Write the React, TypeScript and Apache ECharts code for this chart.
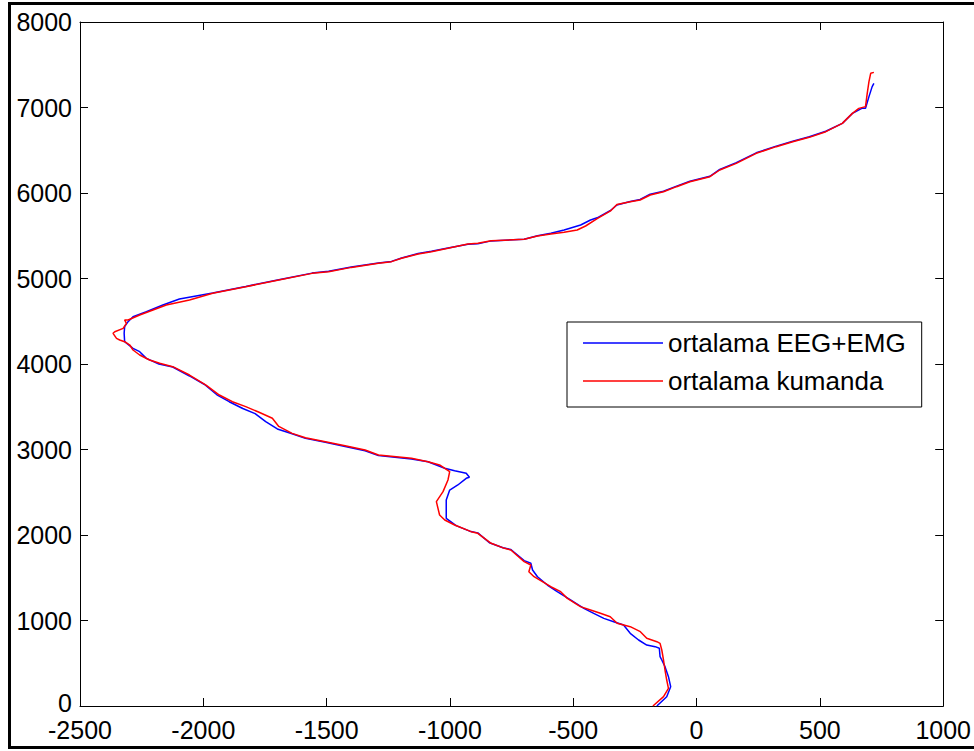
import React, { useEffect, useRef } from "react";
import * as echarts from "echarts";

// Axis ranges and tick steps
const xRange = [-2500, 1000];
const xStep = 500;
const yRange = [0, 8000];
const yStep = 1000;

const seriesNames = ["ortalama EEG+EMG", "ortalama kumanda"];
const seriesColors = ["#0000ff", "#ff0000"];

// Averaged EEG+EMG trajectory, [x, y]
const eegEmg: [number, number][] = [
  [-161, 0], [-121, 109], [-105, 226], [-114, 343], [-128, 460], [-141, 538],
  [-148, 577], [-151, 675], [-168, 694], [-202, 713], [-235, 772], [-269, 850],
  [-296, 947], [-336, 986], [-376, 1025], [-417, 1084], [-457, 1142], [-511, 1240],
  [-565, 1337], [-605, 1415], [-645, 1512], [-665, 1591], [-672, 1669], [-699, 1700],
  [-753, 1830], [-785, 1850], [-840, 1910], [-887, 2025], [-920, 2045], [-975, 2110],
  [-1015, 2195], [-1015, 2409], [-1001, 2526], [-968, 2585], [-934, 2663], [-921, 2675],
  [-934, 2722], [-981, 2752], [-1021, 2780], [-1089, 2857], [-1156, 2890], [-1290, 2930],
  [-1344, 2985], [-1425, 3035], [-1505, 3085], [-1586, 3130], [-1640, 3185], [-1700, 3240],
  [-1747, 3325], [-1790, 3420], [-1840, 3480], [-1895, 3559], [-1945, 3640], [-1995, 3760],
  [-2056, 3860], [-2124, 3965], [-2180, 4000], [-2231, 4066], [-2258, 4144], [-2285, 4183],
  [-2319, 4261], [-2321, 4359], [-2319, 4437], [-2305, 4495], [-2285, 4553], [-2231, 4611],
  [-2164, 4690], [-2097, 4760], [-1962, 4830], [-1828, 4907], [-1694, 4985], [-1559, 5063],
  [-1492, 5085], [-1400, 5135], [-1290, 5180], [-1237, 5200], [-1196, 5240], [-1129, 5292],
  [-1075, 5320], [-1008, 5358], [-927, 5400], [-887, 5405], [-833, 5440], [-699, 5458],
  [-645, 5500], [-591, 5530], [-537, 5567], [-470, 5626], [-430, 5684], [-403, 5710],
  [-349, 5795], [-323, 5860], [-269, 5900], [-229, 5925], [-188, 5985], [-134, 6020],
  [-81, 6080], [-27, 6138], [54, 6195], [94, 6275], [161, 6355], [242, 6470],
  [323, 6548], [390, 6605], [457, 6658], [524, 6722], [591, 6814], [632, 6931],
  [670, 6990], [685, 6990], [699, 7127], [712, 7244], [719, 7282],
];

// Averaged command trajectory, [x, y]
const kumanda: [number, number][] = [
  [-177, 0], [-134, 109], [-114, 207], [-121, 304], [-128, 421], [-134, 538],
  [-141, 655], [-148, 733], [-161, 752], [-202, 792], [-228, 869], [-269, 928],
  [-322, 967], [-350, 1044], [-390, 1084], [-430, 1123], [-471, 1162], [-524, 1259],
  [-551, 1337], [-591, 1395], [-625, 1454], [-659, 1512], [-680, 1571], [-672, 1649],
  [-699, 1688], [-753, 1825], [-779, 1844], [-833, 1903], [-887, 2020], [-914, 2039],
  [-981, 2117], [-1021, 2175], [-1042, 2234], [-1055, 2390], [-1028, 2507], [-1008, 2643],
  [-1001, 2741], [-1042, 2819], [-1089, 2857], [-1156, 2897], [-1290, 2936], [-1344, 2994],
  [-1425, 3045], [-1505, 3091], [-1586, 3138], [-1640, 3189], [-1694, 3270], [-1720, 3365],
  [-1774, 3435], [-1828, 3501], [-1882, 3559], [-1935, 3637], [-1989, 3754], [-2056, 3871],
  [-2124, 3969], [-2177, 4008], [-2218, 4047], [-2258, 4105], [-2285, 4164], [-2298, 4222],
  [-2319, 4261], [-2339, 4281], [-2352, 4300], [-2366, 4359], [-2359, 4378], [-2325, 4417],
  [-2312, 4476], [-2319, 4515], [-2305, 4515], [-2258, 4573], [-2204, 4632], [-2150, 4690],
  [-2056, 4748], [-1962, 4827], [-1828, 4904], [-1694, 4982], [-1559, 5060], [-1492, 5080],
  [-1400, 5130], [-1290, 5177], [-1237, 5197], [-1196, 5236], [-1129, 5287], [-1075, 5314],
  [-1008, 5353], [-927, 5404], [-887, 5411], [-833, 5442], [-699, 5458], [-645, 5497],
  [-591, 5520], [-537, 5540], [-484, 5567], [-450, 5614], [-403, 5700], [-349, 5790],
  [-323, 5865], [-269, 5898], [-229, 5918], [-188, 5977], [-134, 6015], [-81, 6074],
  [-27, 6132], [54, 6191], [94, 6269], [161, 6347], [242, 6464], [323, 6542],
  [390, 6600], [457, 6651], [524, 6717], [591, 6814], [632, 6931], [658, 6990],
  [685, 7010], [692, 7166], [699, 7302], [706, 7400], [719, 7411],
];

const FONT = "'Liberation Sans', Arial, sans-serif";
// thin horizontal bar used as the legend key
const LEGEND_KEY = "path://M0,0H80V1.5H0Z";

const labelText = { fontSize: 25, lineHeight: 18, fontFamily: FONT, color: "#000" };

function boxAxis(position: string, min: number, max: number, interval: number, labels: boolean) {
  const isY = position === "left";
  return {
    type: "value",
    position,
    min,
    max,
    interval,
    axisLine: { show: true, onZero: false, lineStyle: { color: "#000", width: 1 } },
    axisTick: { show: true, inside: true, length: 8, lineStyle: { color: "#000", width: 1 } },
    axisLabel: labels
      ? {
          show: true,
          margin: isY ? 8 : 15,
          ...labelText,
          // the y-axis origin label sits a little higher so it clears the x labels
          formatter: (v: number) => (isY && v === min ? `{low|${v}}` : String(v)),
          rich: { low: { ...labelText, padding: [0, 0, 7, 0] } },
        }
      : { show: false },
    splitLine: { show: false },
  };
}

export default function App() {
  const ref = useRef<HTMLDivElement>(null);

  useEffect(() => {
    if (!ref.current) return;
    const chart = echarts.init(ref.current, null, { renderer: "svg" });
    chart.setOption({
      animation: false,
      backgroundColor: "#fff",
      grid: { left: 80, right: 26, top: 22, bottom: 45, containLabel: false },
      xAxis: [
        boxAxis("bottom", xRange[0], xRange[1], xStep, true),
        boxAxis("top", xRange[0], xRange[1], xStep, false),
      ],
      yAxis: [
        boxAxis("left", yRange[0], yRange[1], yStep, true),
        boxAxis("right", yRange[0], yRange[1], yStep, false),
      ],
      legend: {
        orient: "vertical",
        left: 567,
        top: 322,
        itemWidth: 80,
        itemHeight: 26,
        itemGap: 12,
        symbolKeepAspect: true,
        padding: [8, 16, 13, 16],
        borderColor: "#000",
        borderWidth: 1,
        borderRadius: 0,
        backgroundColor: "#fff",
        textStyle: { fontSize: 26, fontFamily: FONT, color: "#000" },
        data: seriesNames.map((name, i) => ({
          name,
          icon: LEGEND_KEY,
          itemStyle: { color: seriesColors[i], borderWidth: 0 },
        })),
      },
      graphic: [
        {
          type: "rect",
          shape: { x: 9.5, y: 3.5, width: 1000, height: 744 },
          style: { fill: "none", stroke: "#000", lineWidth: 3 },
          silent: true,
          z: 100,
        },
      ],
      series: [
        {
          name: seriesNames[0],
          type: "line",
          data: eegEmg,
          symbol: "none",
          showSymbol: false,
          lineStyle: { color: seriesColors[0], width: 1.5 },
          itemStyle: { color: seriesColors[0] },
          z: 2,
        },
        {
          name: seriesNames[1],
          type: "line",
          data: kumanda,
          symbol: "none",
          showSymbol: false,
          lineStyle: { color: seriesColors[1], width: 1.5 },
          itemStyle: { color: seriesColors[1] },
          z: 3,
        },
      ],
    });
    return () => chart.dispose();
  }, []);

  return (
    <div
      ref={ref}
      style={{ position: "absolute", left: 0, top: 0, width: 974, height: 751 }}
    />
  );
}
